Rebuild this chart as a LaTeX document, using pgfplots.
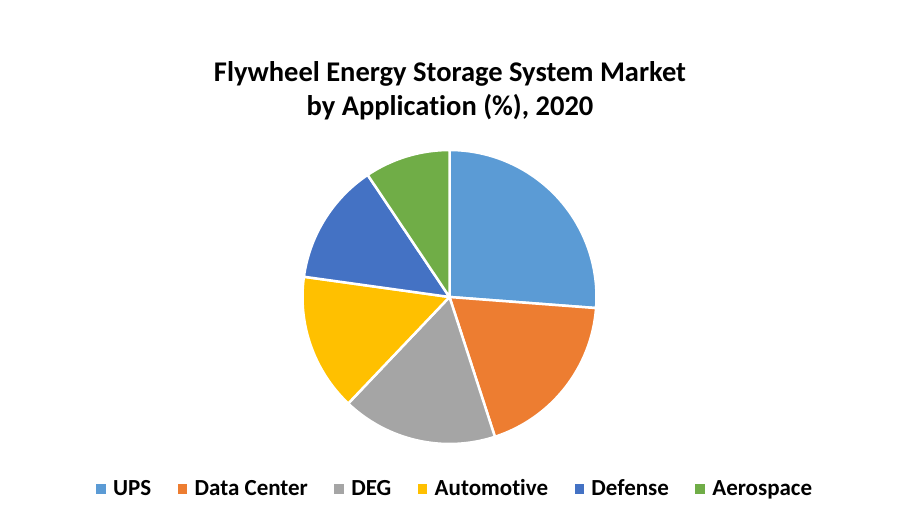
\documentclass[border=0pt]{standalone}
\usepackage{pgfplots}
\usepackage{pgfplotstable}
\pgfplotsset{compat=1.18}
\usepackage{fontspec}
\setmainfont{Carlito}[Ligatures=NoCommon]

\definecolor{cUPS}{HTML}{5B9BD5}
\definecolor{cDC}{HTML}{ED7D31}
\definecolor{cDEG}{HTML}{A5A5A5}
\definecolor{cAuto}{HTML}{FFC000}
\definecolor{cDef}{HTML}{4472C4}
\definecolor{cAero}{HTML}{70AD47}

% share in percent, clockwise from 12 o'clock
\pgfplotstableread[col sep=comma]{
app,share,color
UPS,26.2,cUPS
Data Center,18.8,cDC
DEG,17.1,cDEG
Automotive,15.1,cAuto
Defense,13.4,cDef
Aerospace,9.4,cAero
}\piedata

\begin{document}
\begin{tikzpicture}[x=1pt,y=1pt]
\path[use as bounding box] (0pt,0pt) rectangle (900pt,522pt);

\node[anchor=base,font=\bfseries\fontsize{28.5}{34}\selectfont] at (450pt,440pt) {Flywheel Energy Storage System Market};
\node[anchor=base,font=\bfseries\fontsize{28.5}{34}\selectfont] at (450pt,406pt) {by Application (\%), 2020};

\begin{axis}[
  at={(449.5pt,225pt)}, anchor=center,
  scale only axis,
  x=147pt, y=147pt,
  xmin=-1, xmax=1, ymin=-1, ymax=1,
  hide axis,
  clip=false,
  legend columns=6,
  legend image code/.code={\fill[#1] (0pt,-3pt) rectangle (8.5pt,5.5pt);},
  legend style={draw=none, fill=none,
    at={(axis cs:0.032,-1.313)}, anchor=center,
    font=\bfseries\fontsize{23}{27}\selectfont,
    nodes={inner sep=0pt},
    /tikz/every odd column/.append style={column sep=8pt},
    /tikz/every even column/.append style={column sep=26.5pt,
      text height=1.2em, text depth=0.2em}},
]
\pgfplotstablegetrowsof{\piedata}
\pgfmathtruncatemacro{\lastrow}{\pgfplotsretval-1}
\def\curang{90}
\pgfplotsforeachungrouped \i in {0,...,\lastrow}{%
  \pgfplotstablegetelem{\i}{share}\of\piedata \let\share\pgfplotsretval
  \pgfplotstablegetelem{\i}{color}\of\piedata \let\col\pgfplotsretval
  \pgfplotstablegetelem{\i}{app}\of\piedata \let\name\pgfplotsretval
  \pgfmathsetmacro{\endang}{\curang-3.6*\share}
  \pgfmathsetmacro{\px}{cos(\curang)}
  \pgfmathsetmacro{\py}{sin(\curang)}
  \edef\slice{\noexpand\fill[\col, draw=white, line width=2.5pt, line join=round]
    (axis cs:0,0) -- (axis cs:\px,\py)
    arc[start angle=\curang, end angle=\endang, radius=147pt] -- cycle;}
  \slice
  \edef\entry{\noexpand\addlegendimage{\col}\noexpand\addlegendentry{\name}}
  \entry
  \let\curang\endang
}
\end{axis}
\end{tikzpicture}
\end{document}
